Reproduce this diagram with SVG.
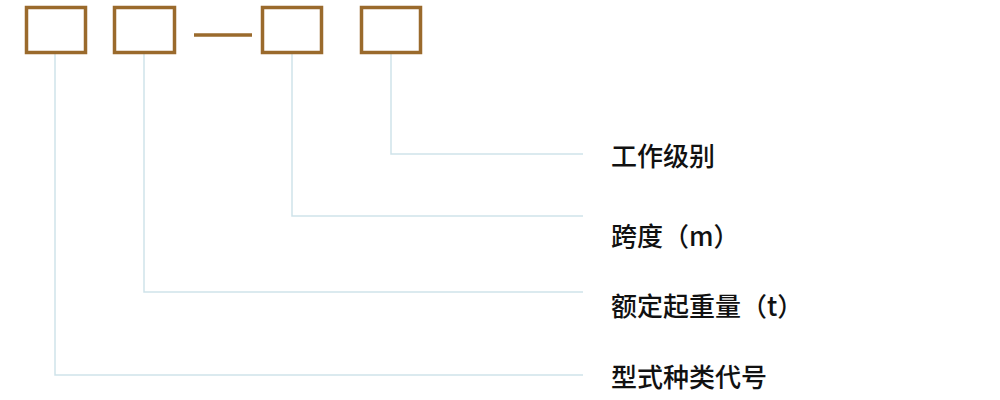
<svg xmlns="http://www.w3.org/2000/svg" width="1000" height="400" viewBox="0 0 1000 400">
<style>
.box{fill:#fff;stroke:#9a6a2c;stroke-width:3.5}
.ln{fill:none;stroke:#cfe3ea;stroke-width:1.5}
.lbl{font-family:"Noto Sans CJK SC","Noto Sans",sans-serif;font-size:26px;font-weight:500;fill:#111}
</style>
<rect width="1000" height="400" fill="#fff"/>
<g id="connectors">
<polyline class="ln" points="391,54 391,154 583,154"/>
<polyline class="ln" points="292,54 292,216 583,216"/>
<polyline class="ln" points="144,54 144,292 583,292"/>
<polyline class="ln" points="55,54 55,375 583,375"/>
</g>
<g id="box1"><rect class="box" x="26.5" y="7.5" width="59" height="45"/></g>
<g id="box2"><rect class="box" x="114.5" y="7.5" width="60" height="45"/></g>
<g id="dash"><line x1="194" y1="35" x2="252" y2="35" stroke="#9a6a2c" stroke-width="3.5"/></g>
<g id="box3"><rect class="box" x="262.5" y="7.5" width="59" height="45"/></g>
<g id="box4"><rect class="box" x="361.5" y="7.5" width="59" height="45"/></g>
<g id="label1"><text class="lbl" x="611" y="166">工作级别</text></g>
<g id="label2"><text class="lbl" x="611" y="246">跨度（m）</text></g>
<g id="label3"><text class="lbl" x="611" y="316">额定起重量（t）</text></g>
<g id="label4"><text class="lbl" x="611" y="387">型式种类代号</text></g>
</svg>
